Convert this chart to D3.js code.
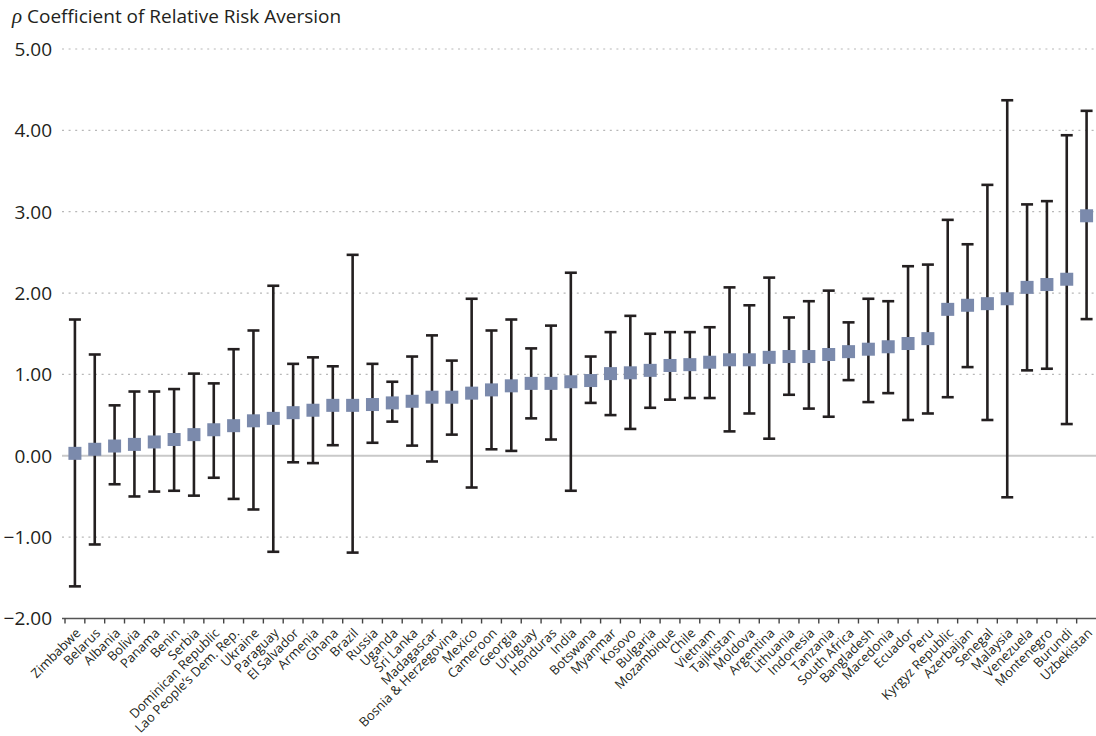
<!DOCTYPE html>
<html>
<head>
<meta charset="utf-8">
<script src="https://cdn.jsdelivr.net/npm/d3@7"></script>
<style>
  body { margin: 0; background: #fff; }
  svg text { font-family: "Open Sans", "Noto Sans", sans-serif; fill: #231f20; }
</style>
</head>
<body>
<div id="chart"></div>
<script>
var width = 1096;
var height = 736;

// countries, in plotted order
var countries = ["Zimbabwe","Belarus","Albania","Bolivia","Panama","Benin","Serbia","Dominican Republic",
  "Lao People\u2019s Dem. Rep.","Ukraine","Paraguay","El Salvador","Armenia","Ghana","Brazil","Russia",
  "Uganda","Sri Lanka","Madagascar","Bosnia & Herzegovina","Mexico","Cameroon","Georgia","Uruguay",
  "Honduras","India","Botswana","Myanmar","Kosovo","Bulgaria","Mozambique","Chile","Vietnam",
  "Tajikistan","Moldova","Argentina","Lithuania","Indonesia","Tanzania","South Africa","Bangladesh",
  "Macedonia","Ecuador","Peru","Kyrgyz Republic","Azerbaijan","Senegal","Malaysia","Venezuela",
  "Montenegro","Burundi","Uzbekistan"];

// point estimate of rho
var rho = [0.03,0.08,0.12,0.14,0.17,0.20,0.26,0.32,0.37,0.43,0.46,0.53,0.56,0.62,0.62,0.63,
  0.65,0.67,0.72,0.72,0.77,0.81,0.86,0.89,0.89,0.91,0.925,1.01,1.02,1.05,1.11,1.12,1.15,
  1.18,1.18,1.21,1.22,1.22,1.245,1.28,1.31,1.34,1.38,1.44,1.80,1.85,1.87,1.93,2.07,2.105,2.17,2.95];

// confidence interval
var upper = [1.675,1.245,0.62,0.79,0.79,0.82,1.01,0.89,1.31,1.54,2.09,1.13,1.21,1.10,2.47,1.13,
  0.91,1.22,1.48,1.17,1.93,1.54,1.675,1.32,1.60,2.25,1.22,1.52,1.72,1.50,1.52,1.52,1.58,
  2.07,1.85,2.19,1.70,1.90,2.03,1.64,1.93,1.90,2.33,2.35,2.90,2.60,3.33,4.37,3.09,3.13,3.94,4.24];
var lower = [-1.605,-1.09,-0.35,-0.50,-0.44,-0.43,-0.49,-0.27,-0.53,-0.66,-1.18,-0.08,-0.09,0.13,-1.19,0.16,
  0.42,0.125,-0.07,0.26,-0.39,0.08,0.06,0.46,0.20,-0.43,0.65,0.50,0.33,0.59,0.69,0.71,0.71,
  0.30,0.52,0.21,0.75,0.58,0.48,0.93,0.66,0.77,0.44,0.52,0.72,1.09,0.44,-0.51,1.05,1.07,0.39,1.68];

var yTicks = [-2, -1, 0, 1, 2, 3, 4, 5];
var titleText = "Coefficient of Relative Risk Aversion";

var data = countries.map(function(c, i){
  return {name: c, v: rho[i], lo: lower[i], hi: upper[i]};
});

var svg = d3.select("#chart").append("svg")
  .attr("width", width)
  .attr("height", height);

var x = d3.scaleBand().domain(countries).range([65, 1096.5]).padding(0);
var y = d3.scaleLinear().domain([-2, 5]).range([618.5, 49]);

// gridlines
svg.append("g").selectAll("line")
  .data(yTicks.filter(function(t){ return t !== -2 && t !== 0; }))
  .enter().append("line")
  .attr("x1", 62).attr("x2", 1096)
  .attr("y1", function(d){ return y(d); })
  .attr("y2", function(d){ return y(d); })
  .attr("stroke", "#b8b8b8")
  .attr("stroke-width", 1.2)
  .attr("stroke-dasharray", "2,4.6");

// zero line
svg.append("line")
  .attr("x1", 62).attr("x2", 1096)
  .attr("y1", y(0)).attr("y2", y(0))
  .attr("stroke", "#c9c9c9").attr("stroke-width", 2);

// y labels
svg.append("g").selectAll("text")
  .data(yTicks)
  .enter().append("text")
  .attr("x", 52)
  .attr("y", function(d){ return y(d); })
  .attr("dy", "0.36em")
  .attr("text-anchor", "end")
  .attr("font-size", 19)
  .text(function(d){ return d3.format(".2f")(d).replace("-", "\u2212"); });

// x axis at bottom
var xAxis = svg.append("g").attr("transform", "translate(0," + y(-2) + ")");
xAxis.append("line")
  .attr("x1", 62).attr("x2", 1096)
  .attr("stroke", "#555").attr("stroke-width", 1.6);
xAxis.selectAll(".tk")
  .data(countries)
  .enter().append("line")
  .attr("x1", function(d){ return x(d); })
  .attr("x2", function(d){ return x(d); })
  .attr("y1", 0).attr("y2", 5)
  .attr("stroke", "#444").attr("stroke-width", 1.4);

xAxis.selectAll(".lbl")
  .data(countries)
  .enter().append("text")
  .attr("transform", function(d){
    return "translate(" + (x(d) + x.bandwidth()/2) + ",9) rotate(-45)";
  })
  .attr("text-anchor", "end")
  .attr("dy", "0.7em")
  .attr("font-size", 13)
  .attr("fill", "#333")
  .text(function(d){ return d; });

// error bars
var bars = svg.append("g").selectAll("g")
  .data(data)
  .enter().append("g")
  .attr("transform", function(d){ return "translate(" + (x(d.name) + x.bandwidth()/2) + ",0)"; });

bars.append("line")
  .attr("y1", function(d){ return y(d.lo); })
  .attr("y2", function(d){ return y(d.hi); })
  .attr("stroke", "#231f20").attr("stroke-width", 2.6);
bars.append("line")
  .attr("x1", -6).attr("x2", 6)
  .attr("y1", function(d){ return y(d.hi); })
  .attr("y2", function(d){ return y(d.hi); })
  .attr("stroke", "#231f20").attr("stroke-width", 2.6);
bars.append("line")
  .attr("x1", -6).attr("x2", 6)
  .attr("y1", function(d){ return y(d.lo); })
  .attr("y2", function(d){ return y(d.lo); })
  .attr("stroke", "#231f20").attr("stroke-width", 2.6);

// squares
bars.append("rect")
  .attr("x", -6.5).attr("width", 13)
  .attr("y", function(d){ return y(d.v) - 6.5; })
  .attr("height", 13)
  .attr("fill", "#7b8aac");

// title
var title = svg.append("text")
  .attr("x", 12).attr("y", 23)
  .attr("font-size", 19);
title.append("tspan")
  .attr("font-family", "Liberation Serif, DejaVu Serif, serif")
  .attr("font-style", "italic")
  .attr("font-size", 21)
  .text("\u03c1");
title.append("tspan").text(" " + titleText);
</script>
</body>
</html>
